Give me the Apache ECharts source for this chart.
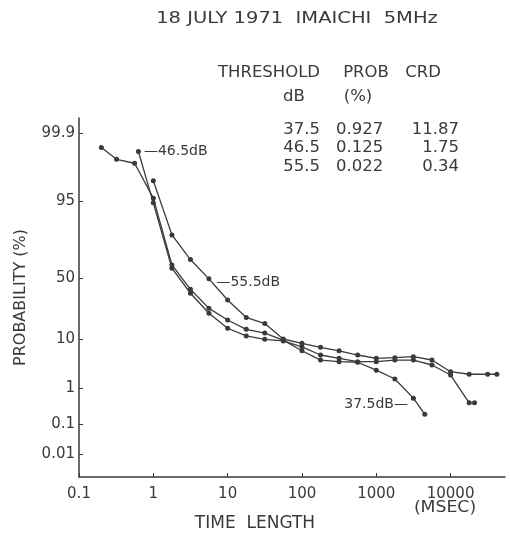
<!DOCTYPE html>
<html>
<head>
<meta charset="utf-8">
<script src="https://cdn.jsdelivr.net/npm/echarts@6/dist/echarts.min.js"></script>
<style>
  html, body { margin: 0; padding: 0; background: #fff; }
  #chart { width: 510px; height: 539px; }
</style>
</head>
<body>
<div id="chart"></div>
<script>
// time length (msec) and probability (%) of each threshold curve
const time375 = [0.2, 0.32, 0.56, 1, 1.78, 3.16, 5.6, 10, 17.8, 31.6, 56, 100, 178, 316, 562, 1000, 1780, 3160, 4500];
const prob375 = [99.73, 99.43, 99.28, 95.6, 61.4, 41.0, 26.4, 19.0, 14.1, 12.4, 9.6, 6.3, 4.2, 3.9, 3.8, 2.6, 1.66, 0.56, 0.2];

const time465 = [0.63, 1, 1.78, 3.16, 5.6, 10, 17.8, 31.6, 56, 100, 178, 316, 562, 1000, 1780, 3160, 5620, 10000, 17800, 21000];
const prob465 = [99.65, 94.6, 58.7, 37.8, 23.1, 14.6, 11.2, 9.9, 9.3, 7.4, 5.25, 4.54, 3.9, 3.9, 4.2, 4.2, 3.34, 2.04, 0.42, 0.42];

const time555 = [1, 1.78, 3.16, 5.6, 10, 17.8, 31.6, 56, 100, 178, 316, 562, 1000, 1780, 3160, 5620, 10000, 17800, 31600, 42000];
const prob555 = [98.1, 82.3, 65.7, 49.8, 32.5, 20.5, 17.0, 10.0, 8.5, 7.25, 6.26, 5.25, 4.54, 4.67, 4.88, 4.21, 2.41, 2.12, 2.12, 2.12];

// probability paper ticks
const probTicks = [0.01, 0.1, 1, 10, 50, 95, 99.9];
const probLabels = ['0.01', '0.1', '1', '10', '50', '95', '99.9'];

// table
const tableThreshold = ['37.5', '46.5', '55.5'];
const tableProb = ['0.927', '0.125', '0.022'];
const tableCrd = ['11.87', '1.75', '0.34'];

// inverse normal cdf (Acklam), p in (0,1)
function probit(p) {
  const a = [-39.69683028665376, 220.9460984245205, -275.9285104469687, 138.3577518672690, -30.66479806614716, 2.506628277459239];
  const b = [-54.47609879822406, 161.5858368580409, -155.6989798598866, 66.80131188771972, -13.28068155288572];
  const c = [-0.007784894002430293, -0.3223964580411365, -2.400758277161838, -2.549732539343734, 4.374664141464968, 2.938163982698783];
  const d = [0.007784695709041462, 0.3224671290700398, 2.445134137142996, 3.754408661907416];
  const pl = 0.02425;
  let q, r;
  if (p < pl) {
    q = Math.sqrt(-2 * Math.log(p));
    return (((((c[0]*q+c[1])*q+c[2])*q+c[3])*q+c[4])*q+c[5]) / ((((d[0]*q+d[1])*q+d[2])*q+d[3])*q+1);
  }
  if (p > 1 - pl) {
    q = Math.sqrt(-2 * Math.log(1 - p));
    return -(((((c[0]*q+c[1])*q+c[2])*q+c[3])*q+c[4])*q+c[5]) / ((((d[0]*q+d[1])*q+d[2])*q+d[3])*q+1);
  }
  q = p - 0.5;
  r = q * q;
  return (((((a[0]*r+a[1])*r+a[2])*r+a[3])*r+a[4])*r+a[5])*q / (((((b[0]*r+b[1])*r+b[2])*r+b[3])*r+b[4])*r+1);
}
const z = p => probit(p / 100);
const tickZ = probTicks.map(z);

const ink = '#3a3a3a';
const font = 'DejaVu Sans';

function makeData(times, probs, labelIdx, label) {
  return times.map((t, i) => {
    const item = { value: [t, z(probs[i])] };
    if (i === labelIdx) item.label = Object.assign({ show: true }, label);
    return item;
  });
}

function curve(name, data) {
  return {
    name: name,
    type: 'line',
    data: data,
    symbol: 'circle',
    symbolSize: 5,
    itemStyle: { color: ink },
    lineStyle: { color: ink, width: 1.3 },
    label: { color: ink, fontFamily: font, fontSize: 14 },
    animation: false
  };
}

// text placed by its centre (x) and middle (y), optionally stretched
function txt(x, y, s, size, align, sx) {
  return {
    type: 'text',
    x: x, y: y,
    scaleX: sx || 1,
    style: {
      text: s, fill: ink,
      font: size + 'px "DejaVu Sans"',
      textAlign: align || 'center',
      textVerticalAlign: 'middle'
    }
  };
}

const graphics = [
  txt(297, 19, '18 JULY 1971  IMAICHI  5MHz', 15, 'center', 1.3),
  txt(269, 73, 'THRESHOLD', 15, 'center', 1.1),
  txt(366, 73, 'PROB', 15, 'center', 1.1),
  txt(423, 73, 'CRD', 15, 'center', 1.1),
  txt(294, 97, 'dB', 15, 'center', 1.1),
  txt(358, 97, '(%)', 15, 'center', 1.1),
  txt(445, 508, '(MSEC)', 15, 'center', 1.15)
];
tableThreshold.forEach((v, i) => {
  const y = 130 + i * 18.5;
  graphics.push(txt(320, y, v, 15, 'right', 1.1));
  graphics.push(txt(336, y, tableProb[i], 15, 'left', 1.1));
  graphics.push(txt(459, y, tableCrd[i], 15, 'right', 1.1));
});

const option = {
  backgroundColor: '#fff',
  animation: false,
  grid: { left: 79, right: 5, top: 118, bottom: 62 },
  xAxis: {
    type: 'log',
    logBase: 10,
    min: 0.1,
    max: 54000,
    name: 'TIME  LENGTH',
    nameLocation: 'middle',
    nameGap: 38,
    nameTextStyle: { color: ink, fontFamily: font, fontSize: 17, padding: [0, 74, 0, 0] },
    axisLine: { onZero: false, lineStyle: { color: ink, width: 1.5 } },
    axisTick: { inside: true, length: 4, lineStyle: { color: ink } },
    axisLabel: {
      color: ink, fontFamily: font, fontSize: 15, margin: 10,
      showMinLabel: true, showMaxLabel: false,
      formatter: v => {
        const e = Math.log10(v);
        if (Math.abs(e - Math.round(e)) > 1e-6) return '';
        return String(+v.toPrecision(6));
      }
    },
    splitLine: { show: false },
    minorTick: { show: false }
  },
  yAxis: {
    type: 'value',
    min: -4.209,
    max: 3.407,
    name: 'PROBABILITY (%)',
    nameLocation: 'middle',
    nameGap: 50,
    nameTextStyle: { color: ink, fontFamily: font, fontSize: 16 },
    axisLine: { show: true, onZero: false, lineStyle: { color: ink, width: 1.5 } },
    axisTick: { show: true, inside: true, length: 4, customValues: tickZ, lineStyle: { color: ink } },
    axisLabel: {
      color: ink, fontFamily: font, fontSize: 15, margin: 4,
      customValues: tickZ,
      formatter: v => {
        let best = 0;
        tickZ.forEach((t, i) => { if (Math.abs(t - v) < Math.abs(tickZ[best] - v)) best = i; });
        return probLabels[best];
      }
    },
    splitLine: { show: false }
  },
  graphic: graphics,
  series: [
    curve('37.5 dB', makeData(time375, prob375, 17, { position: 'left', formatter: '37.5dB—', distance: 3, offset: [0, 6] })),
    curve('46.5 dB', makeData(time465, prob465, 0, { position: 'right', formatter: '—46.5dB', distance: 3 })),
    curve('55.5 dB', makeData(time555, prob555, 3, { position: 'right', formatter: '—55.5dB', distance: 5, offset: [0, 4] }))
  ]
};

const chart = echarts.init(document.getElementById('chart'));
chart.setOption(option);
</script>
</body>
</html>
